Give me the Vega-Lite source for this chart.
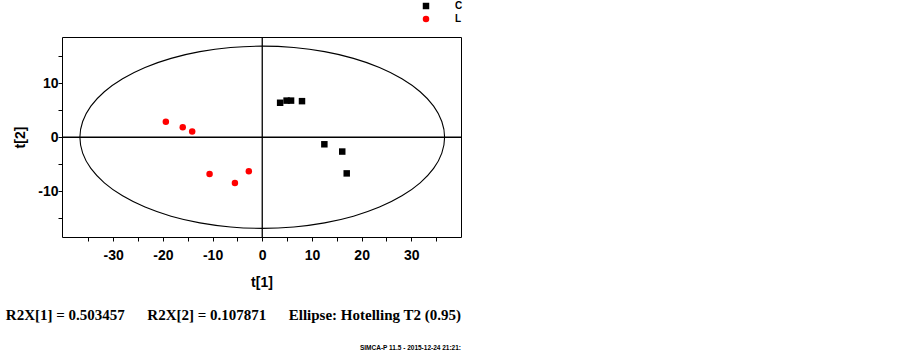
{
  "$schema": "https://vega.github.io/schema/vega-lite/v6.json",
  "width": 399,
  "height": 200,
  "autosize": {"type": "none"},
  "padding": {"left": 62, "top": 37, "right": 442, "bottom": 120},
  "background": "white",
  "title": {
    "text": "R2X[1] = 0.503457\u00a0\u00a0\u00a0\u00a0\u00a0\u00a0R2X[2] = 0.107871\u00a0\u00a0\u00a0\u00a0\u00a0\u00a0Ellipse: Hotelling T2 (0.95)",
    "orient": "bottom",
    "anchor": "end",
    "frame": "group",
    "font": "Liberation Serif",
    "fontSize": 15,
    "fontWeight": "bold",
    "color": "black",
    "offset": 19,
    "subtitle": "SIMCA-P 11.5 - 2015-12-24 21:21:",
    "subtitleFont": "Liberation Sans",
    "subtitleFontSize": 6.5,
    "subtitleFontWeight": "bold",
    "subtitleColor": "black",
    "subtitlePadding": 22
  },
  "config": {
    "view": {"stroke": "black", "strokeWidth": 1},
    "axis": {
      "domain": false,
      "grid": false,
      "tickColor": "black",
      "tickSize": 4,
      "tickWidth": 1,
      "labelFont": "Liberation Sans",
      "labelFontSize": 14,
      "labelFontWeight": "bold",
      "labelColor": "black",
      "titleFont": "Liberation Sans",
      "titleFontSize": 14,
      "titleFontWeight": "bold",
      "titleColor": "black"
    }
  },
  "layer": [
    {
      "data": {"values": [
        {"i": 0, "t1": 36.7, "t2": 0},
        {"i": 1, "t1": 36.14, "t2": 2.93},
        {"i": 2, "t1": 34.49, "t2": 5.78},
        {"i": 3, "t1": 31.78, "t2": 8.45},
        {"i": 4, "t1": 28.11, "t2": 10.86},
        {"i": 5, "t1": 23.59, "t2": 12.95},
        {"i": 6, "t1": 18.35, "t2": 14.64},
        {"i": 7, "t1": 12.55, "t2": 15.88},
        {"i": 8, "t1": 6.37, "t2": 16.64},
        {"i": 9, "t1": 0, "t2": 16.9},
        {"i": 10, "t1": -6.37, "t2": 16.64},
        {"i": 11, "t1": -12.55, "t2": 15.88},
        {"i": 12, "t1": -18.35, "t2": 14.64},
        {"i": 13, "t1": -23.59, "t2": 12.95},
        {"i": 14, "t1": -28.11, "t2": 10.86},
        {"i": 15, "t1": -31.78, "t2": 8.45},
        {"i": 16, "t1": -34.49, "t2": 5.78},
        {"i": 17, "t1": -36.14, "t2": 2.93},
        {"i": 18, "t1": -36.7, "t2": 0},
        {"i": 19, "t1": -36.14, "t2": -2.93},
        {"i": 20, "t1": -34.49, "t2": -5.78},
        {"i": 21, "t1": -31.78, "t2": -8.45},
        {"i": 22, "t1": -28.11, "t2": -10.86},
        {"i": 23, "t1": -23.59, "t2": -12.95},
        {"i": 24, "t1": -18.35, "t2": -14.64},
        {"i": 25, "t1": -12.55, "t2": -15.88},
        {"i": 26, "t1": -6.37, "t2": -16.64},
        {"i": 27, "t1": 0, "t2": -16.9},
        {"i": 28, "t1": 6.37, "t2": -16.64},
        {"i": 29, "t1": 12.55, "t2": -15.88},
        {"i": 30, "t1": 18.35, "t2": -14.64},
        {"i": 31, "t1": 23.59, "t2": -12.95},
        {"i": 32, "t1": 28.11, "t2": -10.86},
        {"i": 33, "t1": 31.78, "t2": -8.45},
        {"i": 34, "t1": 34.49, "t2": -5.78},
        {"i": 35, "t1": 36.14, "t2": -2.93}
      ]},
      "mark": {"type": "line", "color": "black", "strokeWidth": 1.1, "interpolate": "cardinal-closed"},
      "encoding": {
        "x": {
          "field": "t1", "type": "quantitative", "title": "t[1]",
          "scale": {"domain": [-40.3, 40], "nice": false, "zero": false},
          "axis": {
            "values": [-35, -30, -25, -20, -15, -10, -5, 0, 5, 10, 15, 20, 25, 30, 35],
            "labelExpr": "datum.value % 10 === 0 ? '' + datum.value : ''",
            "labelPadding": 7,
            "labelFlush": false,
            "labelOverlap": false,
            "titlePadding": 13
          }
        },
        "y": {
          "field": "t2", "type": "quantitative", "title": "t[2]",
          "scale": {"domain": [-18.5, 18.6], "nice": false, "zero": false},
          "axis": {
            "values": [-15, -10, -5, 0, 5, 10, 15],
            "labelExpr": "datum.value % 10 === 0 ? '' + datum.value : ''",
            "labelPadding": 0,
            "labelFlush": false,
            "labelOverlap": false,
            "titlePadding": 10
          }
        },
        "order": {"field": "i", "type": "quantitative"}
      }
    },
    {
      "data": {"values": [{"t1": 0}]},
      "mark": {"type": "rule", "color": "black", "strokeWidth": 1.3},
      "encoding": {
        "x": {
          "field": "t1", "type": "quantitative", "title": "t[1]",
          "scale": {"domain": [-40.3, 40], "nice": false, "zero": false},
          "axis": {
            "values": [-35, -30, -25, -20, -15, -10, -5, 0, 5, 10, 15, 20, 25, 30, 35],
            "labelExpr": "datum.value % 10 === 0 ? '' + datum.value : ''",
            "labelPadding": 7,
            "labelFlush": false,
            "labelOverlap": false,
            "titlePadding": 13
          }
        }
      }
    },
    {
      "data": {"values": [{"t2": 0}]},
      "mark": {"type": "rule", "color": "black", "strokeWidth": 1.3},
      "encoding": {
        "y": {
          "field": "t2", "type": "quantitative", "title": "t[2]",
          "scale": {"domain": [-18.5, 18.6], "nice": false, "zero": false},
          "axis": {
            "values": [-15, -10, -5, 0, 5, 10, 15],
            "labelExpr": "datum.value % 10 === 0 ? '' + datum.value : ''",
            "labelPadding": 0,
            "labelFlush": false,
            "labelOverlap": false,
            "titlePadding": 10
          }
        }
      }
    },
    {
      "data": {"values": [
        {"class": "C", "t1": 3.6, "t2": 6.4},
        {"class": "C", "t1": 4.9, "t2": 6.8},
        {"class": "C", "t1": 5.8, "t2": 6.8},
        {"class": "C", "t1": 8.0, "t2": 6.7},
        {"class": "C", "t1": 12.5, "t2": -1.3},
        {"class": "C", "t1": 16.1, "t2": -2.65},
        {"class": "C", "t1": 17.0, "t2": -6.7},
        {"class": "L", "t1": -19.4, "t2": 2.9},
        {"class": "L", "t1": -16.0, "t2": 1.85},
        {"class": "L", "t1": -14.1, "t2": 1.05},
        {"class": "L", "t1": -10.6, "t2": -6.8},
        {"class": "L", "t1": -5.5, "t2": -8.5},
        {"class": "L", "t1": -2.7, "t2": -6.3}
      ]},
      "mark": {"type": "point", "filled": true, "size": 42, "opacity": 1},
      "encoding": {
        "x": {
          "field": "t1", "type": "quantitative", "title": "t[1]",
          "scale": {"domain": [-40.3, 40], "nice": false, "zero": false},
          "axis": {
            "values": [-35, -30, -25, -20, -15, -10, -5, 0, 5, 10, 15, 20, 25, 30, 35],
            "labelExpr": "datum.value % 10 === 0 ? '' + datum.value : ''",
            "labelPadding": 7,
            "labelFlush": false,
            "labelOverlap": false,
            "titlePadding": 13
          }
        },
        "y": {
          "field": "t2", "type": "quantitative", "title": "t[2]",
          "scale": {"domain": [-18.5, 18.6], "nice": false, "zero": false},
          "axis": {
            "values": [-15, -10, -5, 0, 5, 10, 15],
            "labelExpr": "datum.value % 10 === 0 ? '' + datum.value : ''",
            "labelPadding": 0,
            "labelFlush": false,
            "labelOverlap": false,
            "titlePadding": 10
          }
        },
        "color": {
          "field": "class", "type": "nominal",
          "scale": {"domain": ["C", "L"], "range": ["#000000", "#ff0000"]},
          "legend": {"orient": "none", "legendX": 359, "legendY": -36, "title": null, "padding": 0, "labelFont": "Liberation Sans", "labelFontSize": 10, "labelFontWeight": "bold", "labelColor": "black", "labelOffset": 24, "rowPadding": 3, "symbolSize": 42}
        },
        "shape": {
          "field": "class", "type": "nominal",
          "scale": {"domain": ["C", "L"], "range": ["square", "circle"]},
          "legend": {"orient": "none", "legendX": 359, "legendY": -36, "title": null, "padding": 0, "labelFont": "Liberation Sans", "labelFontSize": 10, "labelFontWeight": "bold", "labelColor": "black", "labelOffset": 24, "rowPadding": 3, "symbolSize": 42}
        }
      }
    }
  ]
}
